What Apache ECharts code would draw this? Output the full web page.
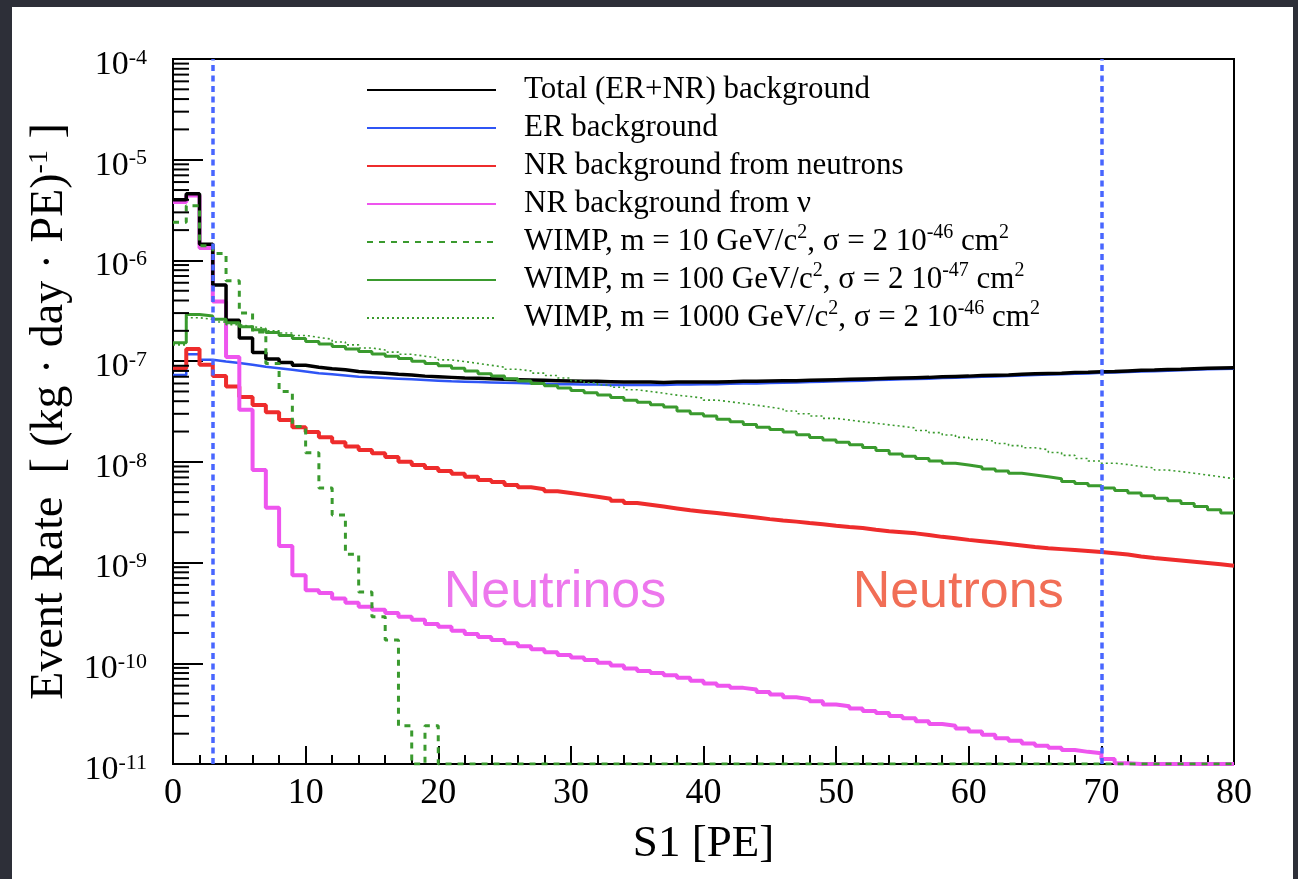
<!DOCTYPE html>
<html>
<head>
<meta charset="utf-8">
<script src="https://cdn.jsdelivr.net/npm/echarts@6/dist/echarts.min.js"></script>
<style>
  html, body { margin: 0; padding: 0; width: 1298px; height: 879px; overflow: hidden; background: #2d2f38; }
  #chart { position: absolute; left: 12px; top: 7px; width: 1281px; height: 872px; background: #ffffff; }
</style>
</head>
<body>
<div id="chart"></div>
<script>
// S1 bin edges [PE], 1 PE wide bins
const binEdges = [0,1,2,3,4,5,6,7,8,9,10,11,12,13,14,15,16,17,18,19,20,21,22,23,24,25,26,27,28,29,30,
  31,32,33,34,35,36,37,38,39,40,41,42,43,44,45,46,47,48,49,50,51,52,53,54,55,56,57,58,59,60,
  61,62,63,64,65,66,67,68,69,70,71,72,73,74,75,76,77,78,79,80];

// Event rate per bin [(kg day PE)^-1]
const totalBkg = [4.0e-6, 4.6e-6, 1.45e-6, 5.7e-7, 2.55e-7, 1.7e-7, 1.22e-7, 1.05e-7, 9.7e-8, 9.1e-8,
  8.7e-8, 8.4e-8, 8.2e-8, 7.9e-8, 7.7e-8, 7.6e-8, 7.4e-8, 7.3e-8, 7.1e-8, 7.0e-8,
  6.9e-8, 6.8e-8, 6.75e-8, 6.7e-8, 6.6e-8, 6.55e-8, 6.5e-8, 6.45e-8, 6.4e-8, 6.35e-8,
  6.3e-8, 6.3e-8, 6.25e-8, 6.2e-8, 6.2e-8, 6.2e-8, 6.15e-8, 6.2e-8, 6.2e-8, 6.2e-8,
  6.2e-8, 6.25e-8, 6.3e-8, 6.3e-8, 6.35e-8, 6.4e-8, 6.4e-8, 6.45e-8, 6.5e-8, 6.55e-8,
  6.6e-8, 6.65e-8, 6.7e-8, 6.75e-8, 6.8e-8, 6.85e-8, 6.9e-8, 7.0e-8, 7.05e-8, 7.1e-8,
  7.2e-8, 7.25e-8, 7.3e-8, 7.4e-8, 7.5e-8, 7.55e-8, 7.6e-8, 7.7e-8, 7.75e-8, 7.85e-8,
  7.9e-8, 8.0e-8, 8.1e-8, 8.15e-8, 8.25e-8, 8.3e-8, 8.4e-8, 8.5e-8, 8.55e-8, 8.6e-8];

const erBkg = [7.3e-8, 1.17e-7, 1.03e-7, 9.9e-8, 9.6e-8, 9.2e-8, 8.8e-8, 8.5e-8, 8.2e-8, 7.9e-8,
  7.6e-8, 7.4e-8, 7.2e-8, 7.0e-8, 6.9e-8, 6.8e-8, 6.7e-8, 6.6e-8, 6.5e-8, 6.4e-8,
  6.3e-8, 6.25e-8, 6.2e-8, 6.15e-8, 6.1e-8, 6.05e-8, 6.0e-8, 5.95e-8, 5.9e-8, 5.9e-8,
  5.85e-8, 5.85e-8, 5.8e-8, 5.8e-8, 5.8e-8, 5.8e-8, 5.8e-8, 5.85e-8, 5.85e-8, 5.9e-8,
  5.9e-8, 5.95e-8, 6.0e-8, 6.0e-8, 6.05e-8, 6.1e-8, 6.15e-8, 6.2e-8, 6.25e-8, 6.3e-8,
  6.35e-8, 6.4e-8, 6.5e-8, 6.55e-8, 6.6e-8, 6.65e-8, 6.7e-8, 6.8e-8, 6.85e-8, 6.9e-8,
  7.0e-8, 7.05e-8, 7.1e-8, 7.2e-8, 7.3e-8, 7.35e-8, 7.4e-8, 7.5e-8, 7.55e-8, 7.65e-8,
  7.7e-8, 7.8e-8, 7.9e-8, 7.95e-8, 8.05e-8, 8.1e-8, 8.2e-8, 8.3e-8, 8.35e-8, 8.4e-8];

const neutronNR = [8.5e-8, 1.32e-7, 9.2e-8, 7.1e-8, 5.6e-8, 4.4e-8, 3.66e-8, 3.1e-8, 2.6e-8, 2.2e-8,
  1.98e-8, 1.76e-8, 1.57e-8, 1.42e-8, 1.31e-8, 1.22e-8, 1.12e-8, 1.0e-8, 9.3e-9, 8.7e-9,
  8.1e-9, 7.6e-9, 7.1e-9, 6.6e-9, 6.3e-9, 5.9e-9, 5.6e-9, 5.35e-9, 5.1e-9, 4.9e-9,
  4.7e-9, 4.5e-9, 4.3e-9, 4.1e-9, 3.9e-9, 3.75e-9, 3.6e-9, 3.45e-9, 3.3e-9, 3.2e-9,
  3.1e-9, 3.0e-9, 2.9e-9, 2.8e-9, 2.7e-9, 2.62e-9, 2.55e-9, 2.47e-9, 2.4e-9, 2.32e-9,
  2.25e-9, 2.2e-9, 2.12e-9, 2.05e-9, 2.0e-9, 1.95e-9, 1.88e-9, 1.8e-9, 1.74e-9, 1.68e-9,
  1.63e-9, 1.58e-9, 1.53e-9, 1.48e-9, 1.43e-9, 1.39e-9, 1.36e-9, 1.33e-9, 1.3e-9, 1.27e-9,
  1.24e-9, 1.2e-9, 1.15e-9, 1.11e-9, 1.08e-9, 1.05e-9, 1.02e-9, 9.9e-10, 9.6e-10, 9.3e-10];

const neutrinoNR = [3.8e-6, 4.4e-6, 1.33e-6, 3.9e-7, 1.1e-7, 3.3e-8, 8.3e-9, 3.5e-9, 1.46e-9, 7.5e-10,
  5.3e-10, 5.0e-10, 4.4e-10, 4.0e-10, 3.64e-10, 3.4e-10, 3.15e-10, 2.9e-10, 2.7e-10, 2.45e-10,
  2.3e-10, 2.1e-10, 1.95e-10, 1.82e-10, 1.7e-10, 1.58e-10, 1.48e-10, 1.38e-10, 1.29e-10, 1.21e-10,
  1.14e-10, 1.08e-10, 1.01e-10, 9.5e-11, 8.9e-11, 8.4e-11, 8.0e-11, 7.6e-11, 7.2e-11, 6.7e-11,
  6.3e-11, 6.0e-11, 5.7e-11, 5.5e-11, 5.2e-11, 4.9e-11, 4.6e-11, 4.4e-11, 4.2e-11, 3.9e-11,
  3.75e-11, 3.55e-11, 3.35e-11, 3.2e-11, 3.0e-11, 2.85e-11, 2.65e-11, 2.5e-11, 2.4e-11, 2.25e-11,
  2.1e-11, 1.95e-11, 1.8e-11, 1.7e-11, 1.6e-11, 1.52e-11, 1.45e-11, 1.38e-11, 1.32e-11, 1.28e-11,
  1.12e-11, 1.02e-11, 9.6e-12, 9.2e-12, 8.8e-12, 8.4e-12, 8.0e-12, 7.6e-12, 7.3e-12, 7.0e-12];

const wimp10 = [2.4e-6, 3.5e-6, 1.4e-6, 1.17e-6, 6.3e-7, 3.0e-7, 1.95e-7, 9.5e-8, 5.0e-8, 2.24e-8,
  1.23e-8, 5.5e-9, 2.96e-9, 1.21e-9, 5.1e-10, 2.9e-10, 1.7e-10, 2.4e-11, 0, 2.4e-11,
  0, 0, 0, 0, 0, 0, 0, 0, 0, 0,
  0, 0, 0, 0, 0, 0, 0, 0, 0, 0,
  0, 0, 0, 0, 0, 0, 0, 0, 0, 0,
  0, 0, 0, 0, 0, 0, 0, 0, 0, 0,
  0, 0, 0, 0, 0, 0, 0, 0, 0, 0,
  0, 0, 0, 0, 0, 0, 0, 0, 0, 0];

const wimp100 = [1.52e-7, 2.9e-7, 2.8e-7, 2.6e-7, 2.4e-7, 2.2e-7, 2.05e-7, 1.92e-7, 1.8e-7, 1.68e-7,
  1.57e-7, 1.48e-7, 1.4e-7, 1.32e-7, 1.25e-7, 1.18e-7, 1.12e-7, 1.06e-7, 1.0e-7, 9.5e-8,
  9.0e-8, 8.5e-8, 8.0e-8, 7.5e-8, 7.1e-8, 6.7e-8, 6.35e-8, 6.0e-8, 5.7e-8, 5.4e-8,
  5.1e-8, 4.85e-8, 4.6e-8, 4.35e-8, 4.1e-8, 3.9e-8, 3.7e-8, 3.5e-8, 3.2e-8, 3.0e-8,
  2.85e-8, 2.65e-8, 2.5e-8, 2.35e-8, 2.2e-8, 2.1e-8, 1.98e-8, 1.86e-8, 1.75e-8, 1.65e-8,
  1.57e-8, 1.48e-8, 1.39e-8, 1.3e-8, 1.2e-8, 1.14e-8, 1.08e-8, 1.02e-8, 9.7e-9, 9.3e-9,
  8.9e-9, 8.5e-9, 8.1e-9, 7.7e-9, 7.4e-9, 7.1e-9, 6.8e-9, 6.4e-9, 6.1e-9, 5.8e-9,
  5.5e-9, 5.2e-9, 4.9e-9, 4.6e-9, 4.35e-9, 4.1e-9, 3.85e-9, 3.6e-9, 3.35e-9, 3.1e-9];

const wimp1000 = [1.45e-7, 2.7e-7, 2.6e-7, 2.45e-7, 2.3e-7, 2.2e-7, 2.12e-7, 2.0e-7, 1.9e-7, 1.8e-7,
  1.72e-7, 1.65e-7, 1.55e-7, 1.45e-7, 1.35e-7, 1.29e-7, 1.23e-7, 1.17e-7, 1.12e-7, 1.08e-7,
  1.03e-7, 9.9e-8, 9.5e-8, 9.1e-8, 8.7e-8, 8.3e-8, 8.0e-8, 7.6e-8, 7.2e-8, 6.8e-8,
  6.4e-8, 6.1e-8, 5.8e-8, 5.5e-8, 5.2e-8, 5.0e-8, 4.8e-8, 4.6e-8, 4.45e-8, 4.3e-8,
  4.1e-8, 3.95e-8, 3.8e-8, 3.65e-8, 3.5e-8, 3.35e-8, 3.2e-8, 3.0e-8, 2.85e-8, 2.7e-8,
  2.6e-8, 2.5e-8, 2.42e-8, 2.33e-8, 2.25e-8, 2.17e-8, 2.05e-8, 1.95e-8, 1.85e-8, 1.75e-8,
  1.67e-8, 1.6e-8, 1.52e-8, 1.45e-8, 1.38e-8, 1.32e-8, 1.24e-8, 1.16e-8, 1.08e-8, 1.02e-8,
  9.7e-9, 9.4e-9, 9.0e-9, 8.7e-9, 8.3e-9, 8.0e-9, 7.7e-9, 7.4e-9, 7.1e-9, 6.8e-9];

// S1 analysis window [PE]
const s1Window = [3, 70];

// axis ranges and decade ticks
const xRange = [0, 80];
const yDecades = [1e-11, 1e-10, 1e-9, 1e-8, 1e-7, 1e-6, 1e-5, 1e-4];

// series names (legend order) and their rich-text legend labels
const seriesNames = [
  'Total (ER+NR) background',
  'ER background',
  'NR background from neutrons',
  'NR background from ν',
  'WIMP, m = 10 GeV/c², σ = 2 10⁻⁴⁶ cm²',
  'WIMP, m = 100 GeV/c², σ = 2 10⁻⁴⁷ cm²',
  'WIMP, m = 1000 GeV/c², σ = 2 10⁻⁴⁶ cm²'
];
const legendTexts = [
  'Total (ER+NR) background',
  'ER background',
  'NR background from neutrons',
  'NR background from ν',
  'WIMP, m = 10 GeV/c{s|2}, σ = 2 10{s|-46} cm{s|2}',
  'WIMP, m = 100 GeV/c{s|2}, σ = 2 10{s|-47} cm{s|2}',
  'WIMP, m = 1000 GeV/c{s|2}, σ = 2 10{s|-46} cm{s|2}'
];

// in-plot annotations
const tagTexts = ['Neutrinos', 'Neutrons'];
const tagAnchors = [[28.8, 5.0e-10], [59.2, 5.0e-10]];

const SERIF = 'Liberation Serif';
const SANS = 'Liberation Sans';
const Y_MIN = yDecades[0];
const Y_MAX = yDecades[yDecades.length - 1];

// histogram outline: one point per lower bin edge plus the closing edge;
// empty bins (and bins under the range) sit on the bottom of the frame
function histPoints(vals) {
  const pts = vals.map((v, i) => [binEdges[i], Math.max(v, Y_MIN)]);
  pts.push([binEdges[vals.length], Math.max(vals[vals.length - 1], Y_MIN)]);
  return pts;
}

function histSeries(name, vals, color, width, type, z) {
  return {
    name, type: 'line', step: 'end', symbol: 'none', showSymbol: false,
    data: histPoints(vals), z,
    lineStyle: { color, width, type, cap: 'butt' },
    itemStyle: { color: 'transparent', borderWidth: 0 },
    emphasis: { disabled: true },
    silent: true
  };
}

// minor ticks 2..9 within each decade of the log axis
const yMinorTicks = [];
for (let d = 0; d < yDecades.length - 1; d++) {
  for (let k = 2; k <= 9; k++) yMinorTicks.push(yDecades[d] * k);
}

const GREEN = '#3a9a2e';
const chart = echarts.init(document.getElementById('chart'), null, { renderer: 'canvas' });

const option = {
  animation: false,
  backgroundColor: '#ffffff',
  textStyle: { fontFamily: SERIF },
  grid: {
    left: 161, right: 59, top: 52, bottom: 115,
    show: true, borderColor: '#000', borderWidth: 2, backgroundColor: 'transparent',
    outerBoundsMode: 'none', containLabel: false
  },
  legend: {
    data: seriesNames,
    orient: 'vertical',
    left: 354, top: 64, padding: 0,
    itemWidth: 129, itemHeight: 14, itemGap: 0,
    selectedMode: false,
    itemStyle: { color: 'transparent', borderColor: 'transparent', borderWidth: 0 },
    formatter: name => legendTexts[seriesNames.indexOf(name)],
    textStyle: {
      fontFamily: SERIF, fontSize: 31, lineHeight: 38, color: '#000',
      padding: [0, 0, 0, 23],
      rich: { s: { fontFamily: SERIF, fontSize: 20, lineHeight: 16, verticalAlign: 'top', color: '#000' } }
    }
  },
  xAxis: {
    type: 'value', min: xRange[0], max: xRange[1], interval: 10,
    name: 'S1 [PE]', nameLocation: 'middle', nameGap: 58,
    nameTextStyle: { fontFamily: SERIF, fontSize: 45, color: '#000' },
    axisLine: { show: true, onZero: false, lineStyle: { color: '#000', width: 2 } },
    axisTick: { show: true, inside: true, length: 18, lineStyle: { color: '#000', width: 2 } },
    minorTick: { show: true, splitNumber: 5, length: 9, lineStyle: { color: '#000', width: 2 } },
    splitLine: { show: false },
    axisLabel: { fontFamily: SERIF, fontSize: 36, color: '#000', margin: 12 }
  },
  yAxis: {
    type: 'log', logBase: 10, min: Y_MIN, max: Y_MAX, splitNumber: 7,
    name: '{t|Event Rate  [ (kg · day · PE)}{s|-1}{t| ]}',
    nameLocation: 'middle', nameGap: 95,
    nameTextStyle: {
      color: '#000',
      rich: {
        t: { fontFamily: SERIF, fontSize: 46, lineHeight: 48, color: '#000' },
        s: { fontFamily: SERIF, fontSize: 28, lineHeight: 18, verticalAlign: 'top', color: '#000' }
      }
    },
    axisLine: { show: true, onZero: false, lineStyle: { color: '#000', width: 2 } },
    axisTick: { show: true, inside: true, length: 30, lineStyle: { color: '#000', width: 2 } },
    splitLine: { show: false },
    axisLabel: {
      margin: 26,
      padding: [12, 0, 0, 0],
      formatter: v => '{b|10}{s|' + Math.round(Math.log10(v)) + '}',
      rich: {
        b: { fontFamily: SERIF, fontSize: 34, lineHeight: 36, color: '#000' },
        s: { fontFamily: SERIF, fontSize: 22, lineHeight: 18, verticalAlign: 'top', color: '#000' }
      }
    }
  },
  series: [
    // minor ticks of the log axis, placed through the axis scale
    {
      type: 'custom', name: 'yMinorTicks', silent: true, clip: false, z: 6,
      data: yMinorTicks.map(v => [xRange[0], v]),
      encode: { x: 0, y: 1 },
      renderItem: (params, api) => {
        const p = api.coord([api.value(0), api.value(1)]);
        return {
          type: 'line',
          shape: { x1: p[0], y1: p[1], x2: p[0] + 16, y2: p[1] },
          style: { stroke: '#000', lineWidth: 2 }
        };
      }
    },
    Object.assign(histSeries(seriesNames[1], erBkg, '#2f55f5', 2.5, 'solid', 2), {
      markLine: {
        silent: true, symbol: 'none', label: { show: false },
        lineStyle: { color: '#4866ff', width: 3.5, type: [6, 4.5] },
        data: s1Window.map(x => ({ xAxis: x }))
      }
    }),
    histSeries(seriesNames[2], neutronNR, '#ee2c2c', 4, 'solid', 2),
    histSeries(seriesNames[3], neutrinoNR, '#ee55ee', 4, 'solid', 2),
    histSeries(seriesNames[0], totalBkg, '#000000', 3.5, 'solid', 3),
    histSeries(seriesNames[5], wimp100, GREEN, 3, 'solid', 3),
    histSeries(seriesNames[6], wimp1000, GREEN, 1.6, [2, 3], 3),
    histSeries(seriesNames[4], wimp10, GREEN, 3, [6, 6], 3),
    // text annotations
    {
      type: 'scatter', name: 'tags', silent: true, symbolSize: 0, z: 4,
      data: tagTexts.map((t, i) => ({
        value: tagAnchors[i], name: t,
        label: { color: i === 0 ? '#e855e8' : '#ee4a2c' }
      })),
      label: {
        show: true, position: 'inside', formatter: p => p.name,
        fontFamily: SANS, fontSize: 52, fontWeight: 'normal'
      }
    }
  ]
};

chart.setOption(option);
</script>
</body>
</html>
